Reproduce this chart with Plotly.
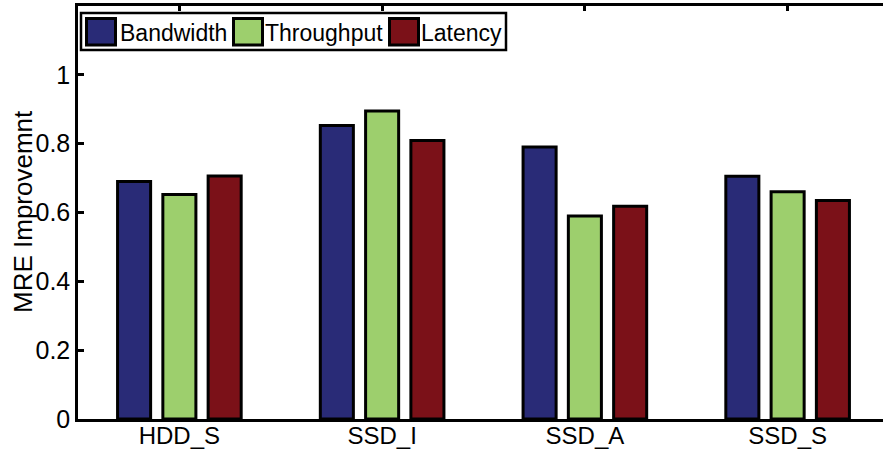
import plotly.graph_objects as go

categories = ["HDD_S", "SSD_I", "SSD_A", "SSD_S"]
series_names = ["Bandwidth", "Throughput", "Latency"]
bandwidth = [0.69, 0.853, 0.79, 0.705]
throughput = [0.652, 0.895, 0.59, 0.66]
latency = [0.706, 0.809, 0.618, 0.635]
series_values = [bandwidth, throughput, latency]
colors = ["#292B77", "#9DCF6D", "#7B1118"]
y_ticks = [0, 0.2, 0.4, 0.6, 0.8, 1]
y_tick_labels = ["0", "0.2", "0.4", "0.6", "0.8", "1"]

FONT = "Liberation Sans, Arial, sans-serif"
W, H = 890, 452
ML, MR, MT, MB = 78, 1, 6, 33
PW = W - ML - MR
PH = H - MT - MB

fig = go.Figure()
xs = list(range(1, len(categories) + 1))
for name, vals, col in zip(series_names, series_values, colors):
    fig.add_trace(go.Bar(
        x=xs, y=vals, name=name,
        marker=dict(color=col, line=dict(color="black", width=3)),
        showlegend=False,
    ))

def px_x(p):
    return (p - ML) / PW

def px_y(p):
    return (H - MB - p) / PH

shapes = []
annotations = []
# legend box
shapes.append(dict(type="rect", xref="paper", yref="paper",
                   x0=px_x(81), x1=px_x(506), y0=px_y(50), y1=px_y(13),
                   line=dict(color="black", width=2.5), fillcolor="white", layer="above"))
sw_x = [86.5, 233.5, 389.5]
tx_x = [118, 263, 419]
for i, (name, col) in enumerate(zip(series_names, colors)):
    shapes.append(dict(type="rect", xref="paper", yref="paper",
                       x0=px_x(sw_x[i]), x1=px_x(sw_x[i] + 29), y0=px_y(45), y1=px_y(18.5),
                       line=dict(color="black", width=3), fillcolor=col, layer="above"))
    annotations.append(dict(xref="paper", yref="paper", x=px_x(tx_x[i]), y=px_y(33),
                            text=name, showarrow=False, xanchor="left", yanchor="middle",
                            font=dict(family=FONT, size=23, color="black")))

annotations.append(dict(xref="paper", yref="paper", x=px_x(23), y=px_y(212),
                        text="MRE Improvemnt", textangle=-90, showarrow=False,
                        xanchor="center", yanchor="middle",
                        font=dict(family=FONT, size=26, color="black")))

fig.update_layout(
    width=W, height=H,
    margin=dict(l=ML, r=MR, t=MT, b=MB, pad=0, autoexpand=False),
    paper_bgcolor="white", plot_bgcolor="white",
    barmode="group", bargap=0.33, bargroupgap=0.27,
    shapes=shapes, annotations=annotations,
    font=dict(family=FONT, size=24, color="black"),
    xaxis=dict(
        range=[0.5, 4.5], tickvals=xs, ticktext=categories,
        showline=True, linecolor="black", linewidth=2.5, mirror="ticks",
        ticks="inside", ticklen=5, tickwidth=2.5, tickcolor="black",
        showgrid=False, zeroline=False, layer="below traces",
        automargin=False, ticklabelstandoff=-7,
        tickfont=dict(family=FONT, size=24, color="black"),
    ),
    yaxis=dict(
        range=[0, 1.2], tickvals=y_ticks, ticktext=y_tick_labels,
        showline=True, linecolor="black", linewidth=2.5, mirror="ticks",
        ticks="inside", ticklen=6, tickwidth=2.5, tickcolor="black",
        showgrid=False, zeroline=False, layer="below traces",
        automargin=False,
        tickfont=dict(family=FONT, size=25, color="black"),
    ),
)

fig.write_html("out.html", config={"displayModeBar": False},
               post_script="document.body.style.margin='0';document.documentElement.style.overflow='hidden';document.body.style.overflow='hidden';")
